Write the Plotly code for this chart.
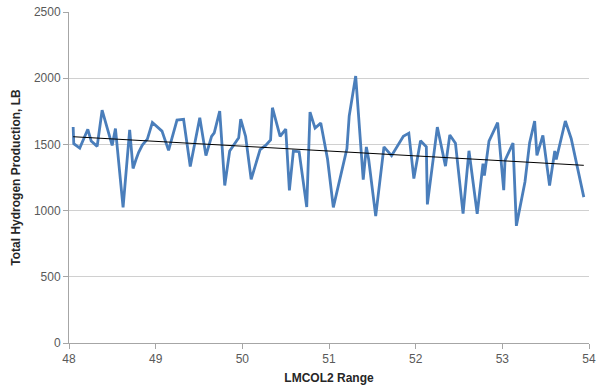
import plotly.graph_objects as go

# pixel-read positions converted to LMCOL2 values
lmcol2_px = [72.7, 73.3, 79.3, 87.3, 90.7, 96.7, 101.7, 111.7, 115, 122.7,
             129.3, 132.7, 135.5, 138.3, 142, 147, 152, 161.7, 168.3, 176.7,
             183.3, 190, 199.5, 205.7, 211.3, 214, 219.5, 224.5, 229.5, 238.5,
             240.5, 245.5, 251, 260, 265.5, 270.5, 272.3, 280, 285.7, 289.3,
             293.3, 299, 306.7, 310, 315, 320.7, 327.5, 333.3, 347, 349.2,
             355.7, 363.3, 366.4, 368.8, 375.8, 384, 391.7, 403.5, 409, 414,
             420.7, 426.5, 427.5, 437.5, 445.7, 450, 455.7, 463.3, 469.2, 477.5,
             483.3, 484.7, 489.3, 498, 504, 505.3, 513.3, 516.7, 525.3, 530,
             535, 537.3, 543.3, 550, 555.2, 556.7, 565.8, 571.7, 584.3]
hydrogen = [1631, 1505, 1472, 1614, 1525, 1485, 1758, 1492, 1619, 1025,
            1609, 1318, 1384, 1440, 1495, 1540, 1665, 1600, 1455, 1684,
            1689, 1333, 1702, 1415, 1560, 1587, 1752, 1190, 1450, 1550,
            1690, 1560, 1236, 1460, 1492, 1533, 1777, 1560, 1616, 1153,
            1450, 1445, 1027, 1744, 1623, 1661, 1390, 1024, 1468, 1714,
            2016, 1234, 1481, 1386, 958, 1481, 1415, 1562, 1585, 1242,
            1528, 1481, 1047, 1631, 1336, 1571, 1509, 977, 1452, 976,
            1354, 1265, 1525, 1664, 1154, 1380, 1510, 885, 1216, 1513,
            1677, 1417, 1568, 1190, 1450, 1386, 1677, 1543, 1102]
lmcol2 = [round(48 + (p - 68.5) / 86.83, 3) for p in lmcol2_px]

# linear trendline end values
trend_values = [1558, 1342]

x_ticks = [48, 49, 50, 51, 52, 53, 54]
y_ticks = [0, 500, 1000, 1500, 2000, 2500]

trend_x = [min(lmcol2), max(lmcol2)]

fig = go.Figure()
fig.add_trace(go.Scatter(x=lmcol2, y=hydrogen, mode="lines",
                         line=dict(color="#4a7ebb", width=2.8), showlegend=False))
fig.add_trace(go.Scatter(x=trend_x, y=trend_values, mode="lines",
                         line=dict(color="#000000", width=1), showlegend=False))

font_family = "Liberation Sans, Arial, sans-serif"
fig.update_layout(
    width=604, height=388,
    margin=dict(l=68.5, r=14.5, t=12, b=45),
    paper_bgcolor="white", plot_bgcolor="white",
    font=dict(family=font_family, size=11, color="#595959"),
    xaxis=dict(range=[48, 54], tickvals=x_ticks, showgrid=False,
               showline=True, linecolor="#a6a6a6", linewidth=1,
               ticks="outside", ticklen=5, tickcolor="#a6a6a6",
               zeroline=False, automargin=False,
               tickfont=dict(size=12, color="#595959"),
               title=dict(text="<b>LMCOL2 Range</b>", font=dict(size=12, color="#262626"), standoff=8)),
    yaxis=dict(range=[0, 2500], tickvals=y_ticks, showgrid=True,
               gridcolor="#d0d0d0", gridwidth=1,
               showline=True, linecolor="#a6a6a6", linewidth=1,
               ticks="outside", ticklen=5, tickcolor="#a6a6a6",
               zeroline=False, automargin=False,
               tickfont=dict(size=12, color="#595959"),
               title=dict(text="<b>Total Hydrogen Production, LB</b>", font=dict(size=12, color="#262626"), standoff=10)),
)

fig.write_html("out.html",
               config={"displayModeBar": False},
               post_script="document.body.style.margin='0px';document.body.style.overflow='hidden';")
